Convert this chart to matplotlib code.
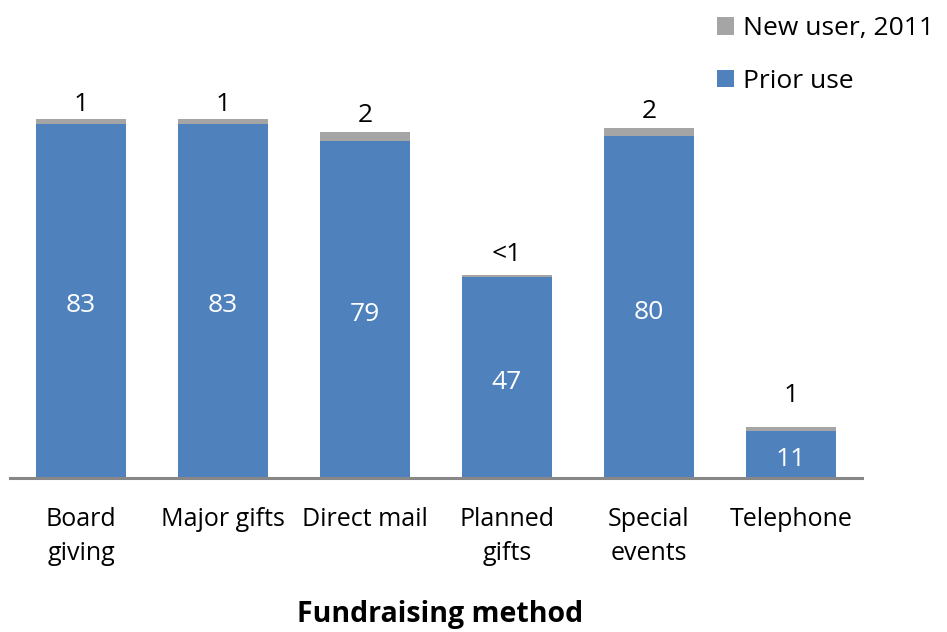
import matplotlib
matplotlib.use("Agg")
import matplotlib.pyplot as plt
import numpy as np

plt.rcParams['font.family'] = ['Open Sans', 'DejaVu Sans']

methods = ["Board\ngiving", "Major gifts", "Direct mail", "Planned\ngifts",
           "Special\nevents", "Telephone"]
prior_use = [83, 83, 79, 47, 80, 11]
new_user = [1, 1, 2, 0.5, 2, 1]
new_labels = ["1", "1", "2", "<1", "2", "1"]

blue = "#4F81BD"
gray = "#A5A5A5"

fig = plt.figure(figsize=(9.47, 6.32), dpi=100)
ax = fig.add_axes([10 / 947, 0.2437, 852 / 947, 0.6756])

x = np.arange(len(methods))
b1 = ax.bar(x, prior_use, width=0.63, color=blue, label="Prior use")
b2 = ax.bar(x, new_user, width=0.63, bottom=prior_use, color=gray,
            label="New user, 2011")

# label gaps above the bars (the telephone label sits higher in the original)
gaps = [0.6, 0.6, 0.9, 1.8, 0.9, 4.3]
for xi, p, n, lab, g in zip(x, prior_use, new_user, new_labels, gaps):
    ax.text(xi, p / 2 - 1.2, str(p), ha="center", va="center",
            color="white", fontsize=19)
    ax.text(xi, p + n + g, lab, ha="center", va="bottom", color="black",
            fontsize=19)

ax.set_xlim(-0.5, len(methods) - 0.5)
ax.set_ylim(0, 100)
ax.set_yticks([])
ax.set_xticks(x)
ax.set_xticklabels(methods, fontsize=18, linespacing=1.45)
ax.tick_params(axis="x", length=0, pad=21)
for s in ["top", "right", "left"]:
    ax.spines[s].set_visible(False)
ax.spines["bottom"].set_color("#878787")
ax.spines["bottom"].set_linewidth(2.2)

fig.text(0.465, 0.004, "Fundraising method", ha="center", va="bottom",
         fontsize=20.5, fontweight="bold")

fig.legend([b2, b1], ["New user, 2011", "Prior use"], loc="upper left",
           bbox_to_anchor=(693 / 947, 1.012), frameon=False, fontsize=19,
           handlelength=0.65, handleheight=0.65, handletextpad=0.35,
           labelspacing=1.05)

fig.savefig("out.png", dpi=100)
